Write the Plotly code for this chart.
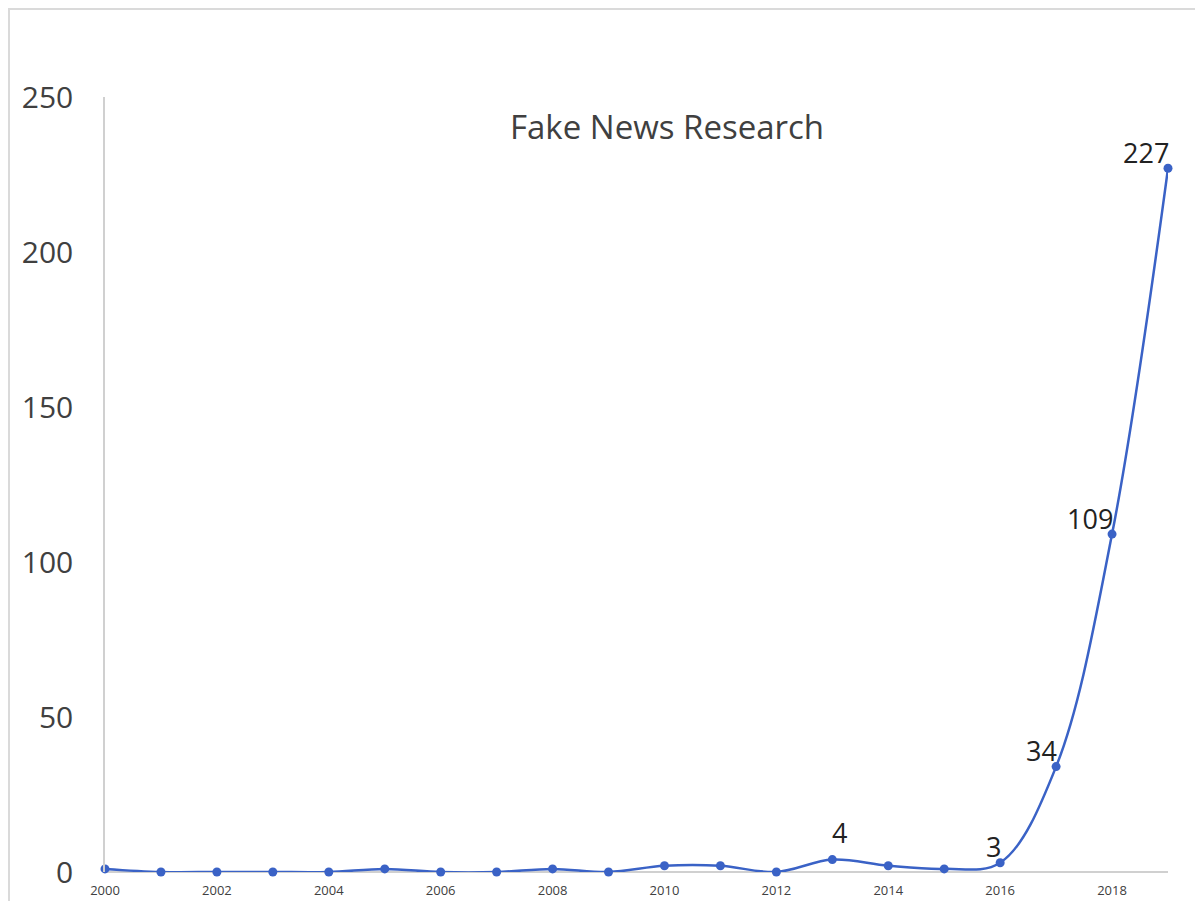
import plotly.graph_objects as go

years = list(range(2000, 2020))
counts = [1, 0, 0, 0, 0, 1, 0, 0, 1, 0, 2, 2, 0, 4, 2, 1, 3, 34, 109, 227]
labelled_years = [2013, 2016, 2017, 2018, 2019]
x_ticks = list(range(2000, 2019, 2))
y_ticks = [0, 50, 100, 150, 200, 250]
title = "Fake News Research"

# page body has an 8px offset in the viewer
OFF = 8
W, H = 1203, 901
L, R, T, B = 105 - OFF, 43, 97 - OFF, 37
pw, ph = W - L - R, H - T - B

def px(x):
    return (x - OFF - L) / pw

def py(y):
    return (H - B - (y - OFF)) / ph

fig = go.Figure()
fig.add_trace(go.Scatter(
    x=years, y=counts, mode="lines+markers",
    line=dict(color="#3A62C6", width=2.5, shape="spline", smoothing=1.0),
    marker=dict(color="#3A62C6", size=9),
    cliponaxis=False, showlegend=False, hoverinfo="x+y",
))

label_font = dict(family="Open Sans, Liberation Sans, sans-serif", size=27, color="#222222")
annotations = []
for yr in labelled_years:
    v = counts[years.index(yr)]
    if yr == 2013:
        annotations.append(dict(x=yr, y=v, xref="x", yref="y", text=str(v), showarrow=False,
                                xanchor="center", yanchor="middle", xshift=7, yshift=27, font=label_font))
    else:
        annotations.append(dict(x=yr, y=v, xref="x", yref="y", text=str(v), showarrow=False,
                                xanchor="right", yanchor="middle", xshift=3, yshift=16, font=label_font))

annotations.append(dict(
    text=title, xref="paper", yref="paper", x=px(667), y=py(127),
    showarrow=False, xanchor="center", yanchor="middle",
    font=dict(family="Open Sans, Liberation Sans, sans-serif", size=33, color="#404040"),
))

fig.update_layout(
    width=W, height=H,
    margin=dict(l=L, r=R, t=T, b=B, autoexpand=False),
    paper_bgcolor="white", plot_bgcolor="white",
    xaxis=dict(
        range=[2000, 2019], tickvals=x_ticks, ticktext=[str(v) for v in x_ticks],
        showgrid=False, zeroline=False, showline=False, automargin=False,
        tickfont=dict(family="Open Sans, Liberation Sans, sans-serif", size=13, color="#404040"),
        ticks="", ticklabelstandoff=9,
    ),
    yaxis=dict(
        range=[0, 250], tickvals=y_ticks, ticktext=[str(v) for v in y_ticks],
        showgrid=False, zeroline=True, zerolinecolor="#D0D0D0", zerolinewidth=1.5,
        showline=True, linecolor="#D0D0D0", linewidth=1.5, automargin=False,
        tickfont=dict(family="Open Sans, Liberation Sans, sans-serif", size=30, color="#404040"),
        ticks="", ticklabelstandoff=24,
    ),
    annotations=annotations,
    shapes=[
        dict(type="line", xref="paper", yref="paper", x0=px(8), x1=px(1211), y0=py(9), y1=py(9),
             line=dict(color="#DADADA", width=2)),
        dict(type="line", xref="paper", yref="paper", x0=px(9), x1=px(9), y0=py(8), y1=py(909),
             line=dict(color="#DADADA", width=2)),
    ],
)

fig.write_html("out.html")
